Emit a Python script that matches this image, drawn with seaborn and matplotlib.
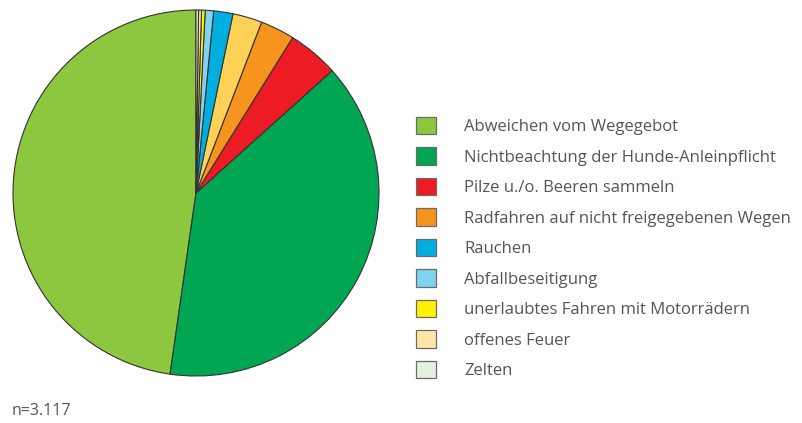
import matplotlib
matplotlib.use("Agg")
import matplotlib.pyplot as plt
import seaborn as sns
from matplotlib.patches import Patch

sns.set_theme(style="white")
plt.rcParams["font.family"] = ["Open Sans", "DejaVu Sans"]

# === DATA === #
categories = [
    "Abweichen vom Wegegebot",
    "Nichtbeachtung der Hunde-Anleinpflicht",
    "Pilze u./o. Beeren sammeln",
    "Radfahren auf nicht freigegebenen Wegen",
    "Sonstiges",
    "Rauchen",
    "Abfallbeseitigung",
    "unerlaubtes Fahren mit Motorrädern",
    "offenes Feuer",
    "Zelten",
]
counts = [1488, 1213, 140, 94, 81, 53, 23, 10, 8, 7]
colors = [
    "#8DC63F", "#00A651", "#ED1C24", "#F7941D", "#FDD257",
    "#00AEDF", "#80D3EE", "#FFF200", "#FFE5A6", "#E4F1DE",
]
legend_skip = {"Sonstiges"}
sample_note = "n=3.117"

fig = plt.figure(figsize=(8.03, 4.23), dpi=100)
ax = fig.add_axes([13 / 803, 47 / 423, 366 / 803, 366 / 423])
ax.pie(
    counts,
    colors=colors,
    startangle=90,
    counterclock=True,
    wedgeprops=dict(edgecolor="#333333", linewidth=0.8),
)
ax.set_aspect("equal")
ax.set_xlim(-1, 1)
ax.set_ylim(-1, 1)

handles = [
    Patch(facecolor=c, edgecolor="#6b6b6b", linewidth=0.9, label=lab)
    for lab, c in zip(categories, colors)
    if lab not in legend_skip
]
fig.legend(
    handles=handles,
    loc="upper left",
    bbox_to_anchor=(416 / 803, 1 - 117 / 423),
    frameon=False,
    fontsize=12.0,
    labelcolor="#555555",
    handlelength=1.2,
    handleheight=1.2,
    handletextpad=1.68,
    labelspacing=0.74,
    borderpad=0,
    borderaxespad=0,
)

fig.text(12 / 803, 1 - 411 / 423, sample_note, fontsize=11.5, color="#555555", va="center")

fig.savefig("out.png", dpi=100)
plt.close(fig)
